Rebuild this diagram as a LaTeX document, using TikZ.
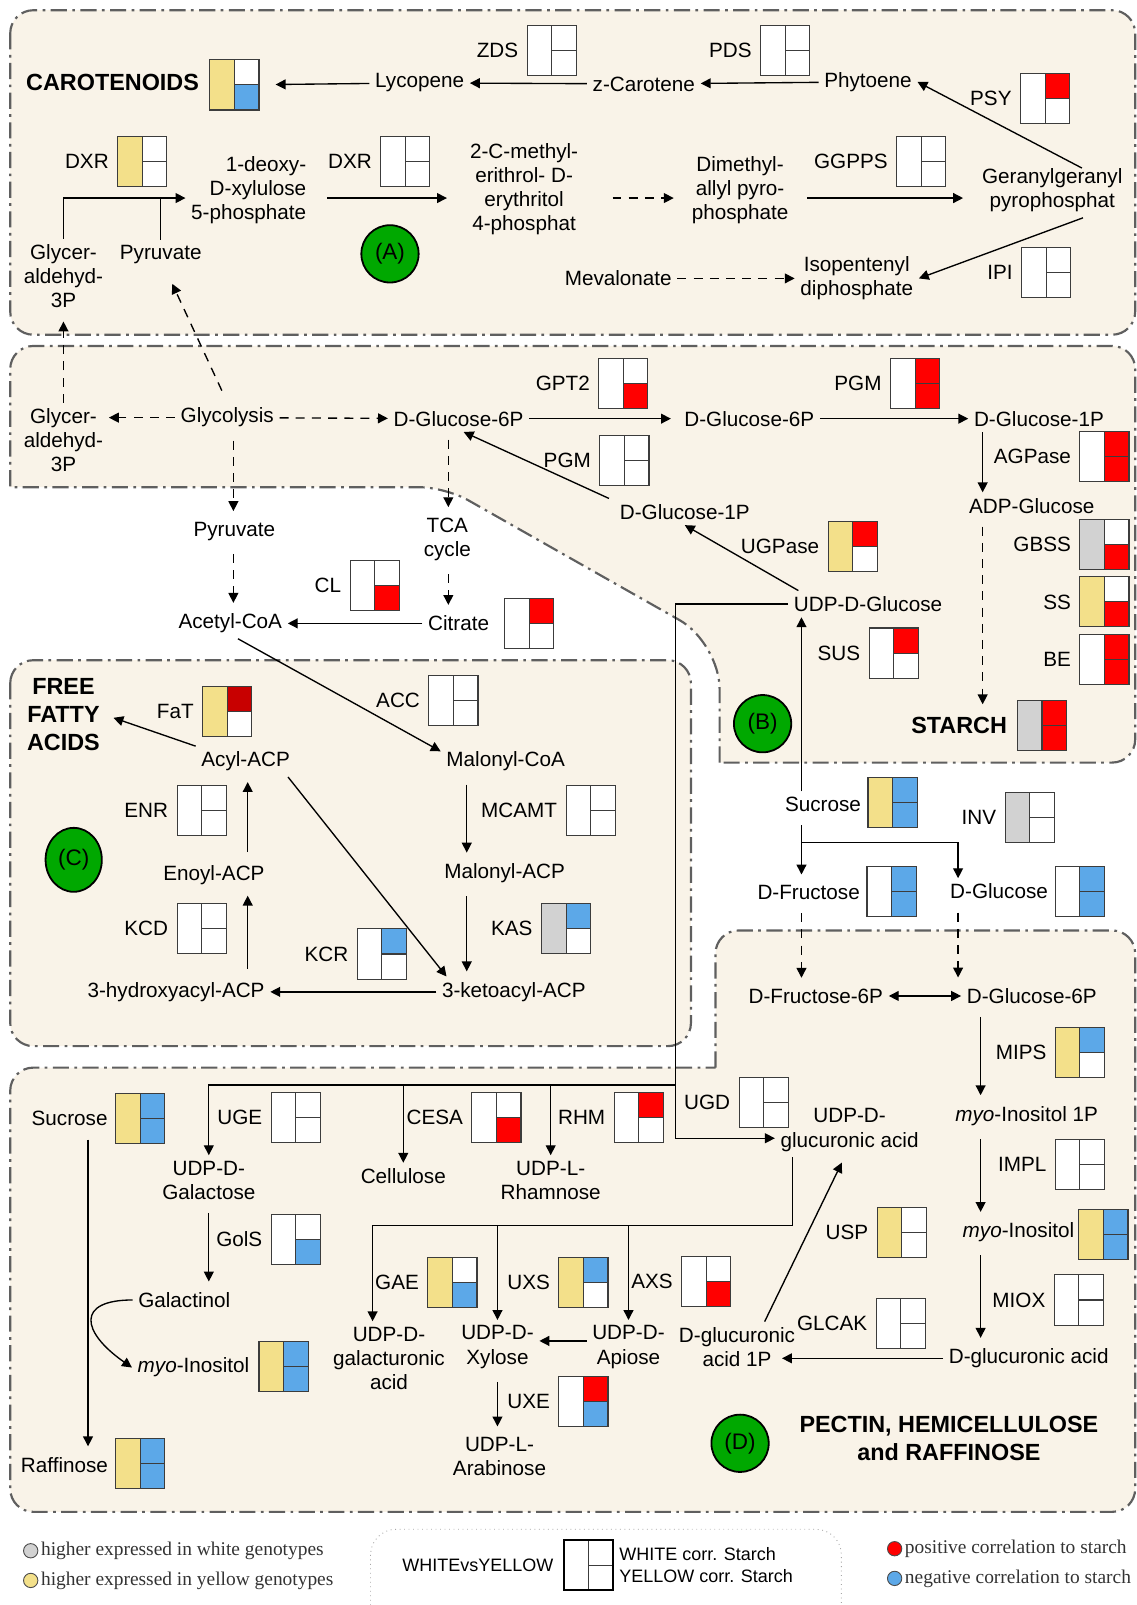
\documentclass[tikz,border=0pt]{standalone}
\usepackage{fontspec}
\setmainfont{Liberation Sans}
\newfontfamily\legserif{Liberation Serif}
\usepackage{xcolor}
\usetikzlibrary{positioning,arrows.meta,shapes.geometric,calc}
\definecolor{bgbeige}{RGB}{249,243,232}
\definecolor{regline}{RGB}{95,95,95}
\definecolor{boxline}{RGB}{60,60,60}
\definecolor{cyel}{RGB}{243,224,138}
\definecolor{cblu}{RGB}{92,168,232}
\definecolor{cred}{RGB}{255,0,0}
\definecolor{cdred}{RGB}{200,0,0}
\definecolor{cgray}{RGB}{210,210,210}
\definecolor{cgreen}{RGB}{0,168,0}
\newcommand{\pwfont}{\fontsize{11.5}{13.4}\selectfont}

\begin{document}
\begin{tikzpicture}[
    x=0.02cm, y=-0.02cm,
    every node/.style={font=\pwfont},
    met/.style={inner sep=3pt, align=center},
    enz/.style={inner sep=1pt},
    ttl/.style={font=\bfseries\fontsize{13}{15.5}\selectfont, align=center, inner sep=2pt},
    lett/.style={circle, draw=black, line width=1pt, fill=cgreen, minimum size=1.12cm,
        inner sep=0pt, font=\fontsize{12.5}{14}\selectfont},
    ebox/.style n args={3}{
        draw=boxline, line width=0.6pt, minimum width=0.96cm, minimum height=0.98cm, inner sep=0pt,
        path picture={
            \fill[#1] (path picture bounding box.south west) rectangle (path picture bounding box.north);
            \fill[#2] (path picture bounding box.north) rectangle (path picture bounding box.east);
            \fill[#3] (path picture bounding box.east) rectangle (path picture bounding box.south);
            \draw[boxline, line width=0.6pt] (path picture bounding box.north) -- (path picture bounding box.south)
                (path picture bounding box.center) -- (path picture bounding box.east);
        }
    },
    arr/.style={-{Triangle[length=5.5pt,width=5.5pt]}, line width=0.75pt},
    darr/.style={arr, dash pattern=on 5pt off 4pt},
    link/.style={line width=0.75pt},
    vgap/.style={shorten <=0.15cm, shorten >=0.1cm},
    region/.style={draw=regline, fill=bgbeige, line width=1.2pt,
        dash pattern=on 9pt off 3pt on 1.5pt off 3pt},
    legdot/.style={circle, draw=black!70, line width=0.5pt, minimum size=0.28cm, inner sep=0pt},
    legtxt/.style={font=\legserif\fontsize{10.8}{12}\selectfont, inner sep=1pt, text=black!80}
]
\useasboundingbox (0,0) rectangle (1110,1568);

% compartments
\draw[region, rounded corners=0.45cm] (10,10) rectangle (1109,327);
\draw[region] (703,745) [rounded corners=0.9cm] -- (703,628) [rounded corners=0.5cm] -- (435,476)
    [sharp corners] -- (10,476) [rounded corners=0.45cm] -- (10,338) -- (1109,338) -- (1109,745)
    [sharp corners] -- cycle;
\draw[region, rounded corners=0.45cm] (10,645) rectangle (675,1022);
\draw[region] (699,1043) [rounded corners=0.45cm] -- (699,909) -- (1109,909) -- (1109,1477)
    -- (10,1477) -- (10,1043) [sharp corners] -- cycle;

% (A) carotenoids
\node[ttl] (carot) at (110,81) {CAROTENOIDS};
\node[ebox={cyel}{white}{cblu}] (bCarot) at (229,83) {};
\node[met] (lyco) at (410,81) {Lycopene};
\node[met] (zcar) at (629,82) {z-Carotene};
\node[met] (phyt) at (848,80) {Phytoene};
\node[ebox={white}{white}{white}] (bZDS) at (539,49) {};
\node[enz, left=3.5pt of bZDS] (tZDS) {ZDS};
\node[ebox={white}{white}{white}] (bPDS) at (767,49) {};
\node[enz, left=3.5pt of bPDS] (tPDS) {PDS};
\node[ebox={white}{cred}{white}] (bPSY) at (1021,96) {};
\node[enz, left=3.5pt of bPSY] (tPSY) {PSY};
\node[met] (ggpp) at (1028,186) {Geranylgeranyl\\pyrophosphat};
\node[met, align=right] (dxp) at (243,186) {1-deoxy-\\D-xylulose\\5-phosphate};
\node[ebox={cyel}{white}{white}] (bDXR1) at (139,158) {};
\node[enz, left=3.5pt of bDXR1] (tDXR1) {DXR};
\node[ebox={white}{white}{white}] (bDXR2) at (396,158) {};
\node[enz, left=3.5pt of bDXR2] (tDXR2) {DXR};
\node[met] (mep) at (512,185) {2-C-methyl-\\erithrol- D-\\erythritol\\4-phosphat};
\node[met] (dmap) at (723,186) {Dimethyl-\\allyl pyro-\\phosphate};
\node[ebox={white}{white}{white}] (bGGPPS) at (900,158) {};
\node[enz, left=3.5pt of bGGPPS] (tGGPPS) {GGPPS};
\node[met] (meva) at (604,272) {Mevalonate};
\node[met] (ipp) at (837,272) {Isopentenyl\\diphosphate};
\node[ebox={white}{white}{white}] (bIPI) at (1022,266) {};
\node[enz, left=3.5pt of bIPI] (tIPI) {IPI};
\node[met] (gapA) at (62,270) {Glycer-\\aldehyd-\\3P};
\node[met] (pyrA) at (157,249) {Pyruvate};
\node[lett] (lA) at (381,248) {(A)};

% (B) starch
\node[met] (gapB) at (62,430) {Glycer-\\aldehyd-\\3P};
\node[met] (glyc) at (222,408) {Glycolysis};
\node[met] (g6pB) at (448,409) {D-Glucose-6P};
\node[met] (g6pP) at (732,409) {D-Glucose-6P};
\node[met] (g1pP) at (1015,409) {D-Glucose-1P};
\node[ebox={white}{white}{cred}] (bGPT2) at (609,375) {};
\node[enz, left=3.5pt of bGPT2] (tGPT2) {GPT2};
\node[ebox={white}{cred}{cred}] (bPGM1) at (894,375) {};
\node[enz, left=3.5pt of bPGM1] (tPGM1) {PGM};
\node[ebox={white}{white}{white}] (bPGM2) at (610,450) {};
\node[enz, left=3.5pt of bPGM2] (tPGM2) {PGM};
\node[met] (g1pC) at (669,500) {D-Glucose-1P};
\node[ebox={cyel}{cred}{white}] (bUGP) at (833,534) {};
\node[enz, left=3.5pt of bUGP] (tUGP) {UGPase};
\node[met] (udpg) at (848,590) {UDP-D-Glucose};
\node[ebox={white}{cred}{cred}] (bAGP) at (1079,446) {};
\node[enz, left=3.5pt of bAGP] (tAGP) {AGPase};
\node[met] (adpg) at (1008,494) {ADP-Glucose};
\node[ebox={cgray}{white}{cred}] (bGBSS) at (1079,532) {};
\node[enz, left=3.5pt of bGBSS] (tGBSS) {GBSS};
\node[ebox={cyel}{white}{cred}] (bSS) at (1079,588) {};
\node[enz, left=3.5pt of bSS] (tSS) {SS};
\node[ebox={white}{cred}{cred}] (bBE) at (1079,644) {};
\node[enz, left=3.5pt of bBE] (tBE) {BE};
\node[ttl] (starch) at (937,709) {STARCH};
\node[ebox={cgray}{cred}{cred}] (bStarch) at (1018,709) {};
\node[ebox={white}{cred}{white}] (bSUS) at (873,638) {};
\node[enz, left=3.5pt of bSUS] (tSUS) {SUS};
\node[lett] (lB) at (745,707) {(B)};
\node[met] (pyrC) at (229,519) {Pyruvate};
\node[met] (acoa) at (225,609) {Acetyl-CoA};
\node[met] (tca) at (437,527) {TCA\\cycle};
\node[met] (citr) at (448,609) {Citrate};
\node[ebox={white}{cred}{white}] (bCitr) at (517,609) {};
\node[ebox={white}{white}{cred}] (bCL) at (366,572) {};
\node[enz, left=3.5pt of bCL] (tCL) {CL};

% (C) free fatty acids
\node[ttl] (ffa) at (62,698) {FREE\\FATTY\\ACIDS};
\node[ebox={cyel}{cdred}{white}] (bFaT) at (222,695) {};
\node[enz, left=3.5pt of bFaT] (tFaT) {FaT};
\node[met] (acyl) at (240,744) {Acyl-ACP};
\node[ebox={white}{white}{white}] (bACC) at (443,684) {};
\node[enz, left=3.5pt of bACC] (tACC) {ACC};
\node[met] (malc) at (494,744) {Malonyl-CoA};
\node[ebox={white}{white}{white}] (bMCAMT) at (577,792) {};
\node[enz, left=3.5pt of bMCAMT] (tMCAMT) {MCAMT};
\node[met] (mala) at (493,853) {Malonyl-ACP};
\node[ebox={cgray}{cblu}{white}] (bKAS) at (553,907) {};
\node[enz, left=3.5pt of bKAS] (tKAS) {KAS};
\node[met] (keto) at (502,969) {3-ketoacyl-ACP};
\node[ebox={white}{cblu}{white}] (bKCR) at (373,932) {};
\node[enz, left=3.5pt of bKCR] (tKCR) {KCR};
\node[met] (hydr) at (172,969) {3-hydroxyacyl-ACP};
\node[ebox={white}{white}{white}] (bKCD) at (197,907) {};
\node[enz, left=3.5pt of bKCD] (tKCD) {KCD};
\node[met] (enoyl) at (209,855) {Enoyl-ACP};
\node[ebox={white}{white}{white}] (bENR) at (197,792) {};
\node[enz, left=3.5pt of bENR] (tENR) {ENR};
\node[lett, ellipse, minimum width=1.1cm, minimum height=1.25cm] (lC) at (72,840) {(C)};

% sugars between the compartments
\node[met] (sucr) at (804,786) {Sucrose};
\node[ebox={cyel}{cblu}{cblu}] (bSucr) at (872,784) {};
\node[ebox={cgray}{white}{white}] (bINV) at (1006,799) {};
\node[enz, left=3.5pt of bINV] (tINV) {INV};
\node[met] (fru) at (790,872) {D-Fructose};
\node[ebox={white}{cblu}{cblu}] (bFru) at (871,871) {};
\node[met] (glc) at (976,871) {D-Glucose};
\node[ebox={white}{cblu}{cblu}] (bGlc) at (1055,871) {};

% (D) pectin, hemicellulose and raffinose
\node[met] (f6p) at (797,973) {D-Fructose-6P};
\node[met] (g6pD) at (1008,973) {D-Glucose-6P};
\node[ebox={cyel}{cblu}{white}] (bMIPS) at (1055,1028) {};
\node[enz, left=3.5pt of bMIPS] (tMIPS) {MIPS};
\node[met] (mi1p) at (1003,1090) {\textit{myo}-Inositol 1P};
\node[ebox={white}{white}{white}] (bIMPL) at (1055,1138) {};
\node[enz, left=3.5pt of bIMPL] (tIMPL) {IMPL};
\node[met] (mino) at (995,1204) {\textit{myo}-Inositol};
\node[ebox={cyel}{cblu}{cblu}] (bMino) at (1078,1206) {};
\node[ebox={white}{white}{white}] (bMIOX) at (1054,1270) {};
\node[enz, left=3.5pt of bMIOX] (tMIOX) {MIOX};
\node[met] (glca) at (1005,1327) {D-glucuronic acid};
\node[ebox={white}{white}{white}] (bGLCAK) at (880,1293) {};
\node[enz, left=3.5pt of bGLCAK] (tGLCAK) {GLCAK};
\node[met] (glca1p) at (720,1316) {D-glucuronic\\acid 1P};
\node[ebox={cyel}{white}{white}] (bUSP) at (881,1204) {};
\node[enz, left=3.5pt of bUSP] (tUSP) {USP};
\node[met] (udpga) at (830,1104) {UDP-D-\\glucuronic acid};
\node[ebox={white}{white}{white}] (bUGD) at (746,1077) {};
\node[enz, left=3.5pt of bUGD] (tUGD) {UGD};
\node[ebox={cyel}{white}{cblu}] (bGAE) at (442,1253) {};
\node[enz, left=3.5pt of bGAE] (tGAE) {GAE};
\node[ebox={cyel}{cblu}{white}] (bUXS) at (570,1253) {};
\node[enz, left=3.5pt of bUXS] (tUXS) {UXS};
\node[ebox={white}{white}{cred}] (bAXS) at (690,1252) {};
\node[enz, left=3.5pt of bAXS] (tAXS) {AXS};
\node[met] (udpgala) at (380,1327) {UDP-D-\\galacturonic\\acid};
\node[met] (udpxyl) at (486,1316) {UDP-D-\\Xylose};
\node[met] (udpapi) at (614,1316) {UDP-D-\\Apiose};
\node[ebox={white}{cred}{cblu}] (bUXE) at (570,1369) {};
\node[enz, left=3.5pt of bUXE] (tUXE) {UXE};
\node[met] (udpara) at (488,1423) {UDP-L-\\Arabinose};
\node[lett] (lD) at (723,1410) {(D)};
\node[ttl] (pect) at (927,1405) {PECTIN, HEMICELLULOSE\\and RAFFINOSE};
\node[met] (sucD) at (68,1093) {Sucrose};
\node[ebox={cyel}{cblu}{cblu}] (bSucD) at (137,1093) {};
\node[met] (raff) at (63,1431) {Raffinose};
\node[ebox={cyel}{cblu}{cblu}] (bRaff) at (137,1430) {};
\node[ebox={white}{white}{white}] (bUGE) at (289,1092) {};
\node[enz, left=3.5pt of bUGE] (tUGE) {UGE};
\node[met] (udpgal) at (204,1153) {UDP-D-\\Galactose};
\node[ebox={white}{white}{cred}] (bCESA) at (485,1092) {};
\node[enz, left=3.5pt of bCESA] (tCESA) {CESA};
\node[met] (cell) at (394,1149) {Cellulose};
\node[ebox={white}{cred}{white}] (bRHM) at (624,1092) {};
\node[enz, left=3.5pt of bRHM] (tRHM) {RHM};
\node[met] (udprha) at (538,1153) {UDP-L-\\Rhamnose};
\node[ebox={white}{white}{cblu}] (bGolS) at (289,1211) {};
\node[enz, left=3.5pt of bGolS] (tGolS) {GolS};
\node[met] (galt) at (180,1270) {Galactinol};
\node[met] (minoD) at (189,1336) {\textit{myo}-Inositol};
\node[ebox={cyel}{cblu}{cblu}] (bMinoD) at (277,1335) {};

% helper points for the arrows
\coordinate (rowA) at ([yshift=-0.15cm]dxp.east);
\coordinate (dxpin) at ([yshift=-0.15cm]dxp.west);
\coordinate (colS) at (960,0);
\coordinate (colSuc) at (783,0);
\coordinate (colGlc) at (936,0);
\coordinate (colPyr) at (228,0);
\coordinate (colTca) at (438,0);
\coordinate (colMal) at (456,0);
\coordinate (colAcyl) at (242,0);
\coordinate (colMI) at (958,0);
\coordinate (colGal) at (364,0);
\coordinate (colRaf) at (86,0);
\coordinate (trunk) at (660,1060);
\coordinate (brS) at (783,823);
\coordinate (brU) at (774,1197);
\coordinate (udpgaIn) at ([yshift=-0.16cm]udpga.west);
\coordinate (rowAX) at ([yshift=0.12cm]udpapi.west);

% arrows (A)
\draw[arr, shorten >=9pt] (lyco) -- (bCarot);
\draw[arr] (zcar) -- (lyco);
\draw[arr] (phyt) -- (zcar);
\draw[arr] ([xshift=0.58cm, yshift=-0.1cm]ggpp.north) -- (phyt.east);
\draw[arr] ([xshift=0.6cm]ggpp.south) -- (ipp.east);
\draw[darr] (meva) -- (ipp);
\draw[arr] (gapA.north) |- (dxpin);
\draw[link] (pyrA.north) -- (pyrA.north |- dxpin);
\draw[arr, shorten <=0.3cm, shorten >=0.34cm] (rowA) -- (rowA -| mep.west);
\draw[darr, shorten <=0.56cm, shorten >=0.24cm] (rowA -| mep.east) -- (rowA -| dmap.west);
\draw[arr, shorten <=0.26cm, shorten >=0.26cm] (rowA -| dmap.east) -- (rowA -| ggpp.west);

% arrows (B)
\draw[darr, shorten >=0.15cm] (gapB.north) -- (gapA.south);
\draw[darr, shorten <=0.25cm, shorten >=0.3cm] (glyc.north) -- ([xshift=0.1cm]pyrA.south);
\draw[darr] (glyc.west) -- (glyc.west -| gapB.east);
\draw[darr] (glyc) -- (g6pB);
\draw[arr, shorten >=0.15cm] (g6pB) -- (g6pP);
\draw[arr] (g6pP) -- (g1pP);
\draw[arr] ([xshift=-0.1cm]g1pC.north west) -- ([xshift=0.1cm]g6pB.south);
\draw[arr] ([xshift=0.2cm]udpg.north west) -- (g1pC.south);
\draw[arr] (g1pP.south -| colS) -- (adpg.north -| colS);
\draw[darr, vgap, shorten >=0.18cm] (adpg.south -| colS) -- (starch.north -| colS);
\draw[arr] (sucr.north -| colSuc) -- (udpg.south -| colSuc);
\draw[link] (udpg.west) -| (trunk);
\draw[arr] (trunk) |- (udpgaIn);
\draw[darr, vgap] (glyc.south -| colPyr) -- (pyrC.north -| colPyr);
\draw[darr, vgap] (pyrC.south -| colPyr) -- (acoa.north -| colPyr);
\draw[darr, vgap] (g6pB.south -| colTca) -- (tca.north -| colTca);
\draw[darr, vgap] (tca.south -| colTca) -- (citr.north -| colTca);
\draw[arr] (citr) -- (acoa);
\draw[arr] ([xshift=0.15cm]acoa.south) -- ([yshift=0.2cm]malc.west);

% arrows (C)
\draw[arr, shorten >=0.2cm] (acyl.north west) -- (ffa.east);
\draw[arr, vgap] (malc.south -| colMal) -- (mala.north -| colMal);
\draw[arr, vgap] (mala.south -| colMal) -- (keto.north -| colMal);
\draw[arr] (keto) -- (hydr);
\draw[arr, vgap] (hydr.north -| colAcyl) -- (enoyl.south -| colAcyl);
\draw[arr, vgap] (enoyl.north -| colAcyl) -- (acyl.south -| colAcyl);
\draw[arr] ([xshift=-0.15cm]acyl.south east) -- ([xshift=0.2cm]keto.north west);

% arrows between compartments
\draw[arr, vgap] (sucr.south -| colSuc) -- (fru.north -| colSuc);
\draw[arr] (brS) -| (glc.north -| colGlc);
\draw[darr, vgap] (fru.south -| colSuc) -- (f6p.north -| colSuc);
\draw[darr, vgap] (glc.south -| colGlc) -- (g6pD.north -| colGlc);
\draw[{Triangle[length=5.5pt,width=5.5pt]}-{Triangle[length=5.5pt,width=5.5pt]}, line width=0.75pt] (f6p) -- (g6pD);

% arrows (D)
\draw[arr, vgap] (g6pD.south -| colMI) -- (mi1p.north -| colMI);
\draw[arr, vgap] (mi1p.south -| colMI) -- (mino.north -| colMI);
\draw[arr, vgap] (mino.south -| colMI) -- (glca.north -| colMI);
\draw[arr, shorten >=0.88cm] (glca.west) -- (glca.west -| glca1p.south);
\draw[arr, shorten >=0.12cm] ([xshift=0.54cm]glca1p.north) -- ([xshift=-0.1cm]udpga.south);
\draw[link] (udpga.south -| brU) -- (brU) -- (brU -| colGal);
\draw[arr] (brU -| colGal) -- (udpgala.north -| colGal);
\draw[arr] (brU -| udpxyl.north) -- (udpxyl.north);
\draw[arr] (brU -| udpapi.north) -- (udpapi.north);
\draw[arr] (rowAX) -- (rowAX -| udpxyl.east);
\draw[arr, vgap] (udpxyl.south) -- (udpxyl.south |- udpara.north);
\draw[arr] (trunk) -| (udpgal.north);
\draw[arr] (trunk -| cell.north) -- (cell.north);
\draw[arr] (trunk -| udprha.north) -- (udprha.north);
\draw[arr, vgap] (udpgal.south) -- (udpgal.south |- galt.north);
\draw[arr] (galt.west) .. controls +(-55,0) and +(-50,-35) .. (minoD.west);
\draw[arr, vgap] (sucD.south -| colRaf) -- (raff.north -| colRaf);

% legend
\node[legdot, fill=cgray] (dW) at (30,1515) {};
\node[legtxt, anchor=west] (tW) at (38,1515) {higher expressed in white genotypes};
\node[legdot, fill=cyel] (dY) at (30,1544) {};
\node[legtxt, anchor=west] (tY) at (38,1544) {higher expressed in yellow genotypes};
\node[legdot, fill=cred] (dR) at (874,1513) {};
\node[legtxt, anchor=west] (tR) at (882,1513) {positive correlation to starch};
\node[legdot, fill=cblu] (dB) at (874,1542) {};
\node[legtxt, anchor=west] (tB) at (882,1542) {negative correlation to starch};
\draw[black!35, line width=0.5pt, dotted, rounded corners=0.5cm] (362,1494) rectangle (822,1600);
\node[ebox={white}{white}{white}, draw=black, line width=0.9pt] (bLeg) at (575,1529) {};
\node[font=\fontsize{10}{12}\selectfont, left=2pt of bLeg] (tLeg) {WHITEvsYELLOW};
\node[font=\fontsize{10}{12}\selectfont, anchor=west, inner sep=1pt] (tLegW) at (603,1518) {WHITE corr. Starch};
\node[font=\fontsize{10}{12}\selectfont, anchor=west, inner sep=1pt] (tLegY) at (603,1540) {YELLOW corr. Starch};
\end{tikzpicture}
\end{document}
